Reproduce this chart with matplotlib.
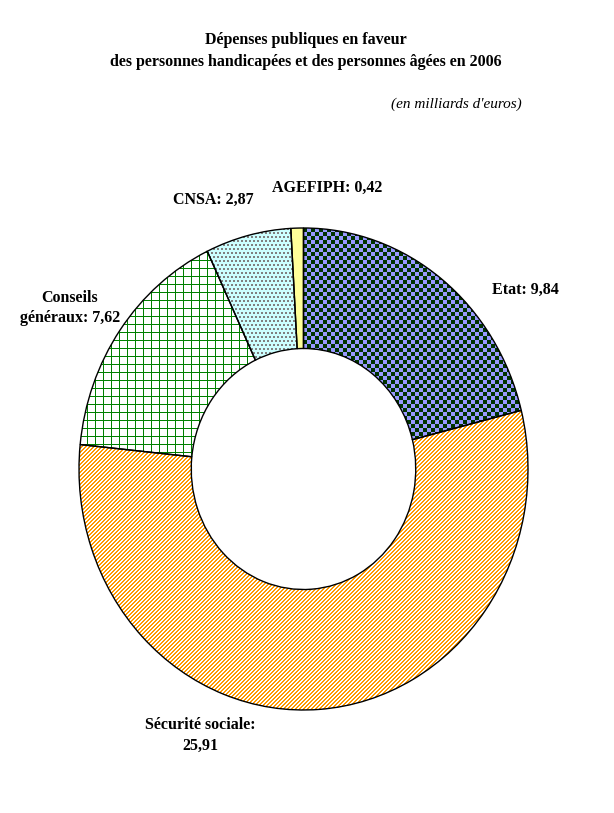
import numpy as np
import matplotlib
matplotlib.use('Agg')
import matplotlib.pyplot as plt

# donnees (milliards d'euros, 2006)
postes = ['Etat', 'Sécurité sociale', 'Conseils\ngénéraux', 'CNSA', 'AGEFIPH']
montants = [9.84, 25.91, 7.62, 2.87, 0.42]

W, H = 614, 813
fig = plt.figure(figsize=(W / 100, H / 100), dpi=100)
fig.patch.set_facecolor('white')

# zone du donut en pixels (un peu ovale comme l'original)
x0, x1, y0, y1 = 79, 528, 228, 710
ax = fig.add_axes([x0 / W, 1 - y1 / H, (x1 - x0) / W, (y1 - y0) / H])

wedges, _ = ax.pie(montants, startangle=90, counterclock=False, radius=1,
                   colors=['none'] * len(montants),
                   wedgeprops=dict(width=0.5, linewidth=1.0, edgecolor='black'))
ax.set_aspect('auto')
ax.set_xlim(-1, 1)
ax.set_ylim(-1, 1)
ax.axis('off')

# textures type Excel, en pixels
pw, ph = x1 - x0, y1 - y0
yy, xx = np.mgrid[0:ph, 0:pw]

def rgb(h):
    return np.array(matplotlib.colors.to_rgb(h))

def motif(mask, fond, trait):
    img = np.empty((ph, pw, 3))
    img[:] = rgb(fond)
    img[mask] = rgb(trait)
    return img

points = ((xx + 2 * ((yy // 4) % 2)) % 4 < 2) & (yy % 4 < 2)
textures = [
    motif(((xx // 4) + (yy // 4)) % 2 == 0, '#9999FF', '#003300'),   # damier
    motif(((xx + yy) % 4) < 2, '#FFFFFF', '#FF9900'),                 # rayures
    motif((xx % 8 == 0) | (yy % 8 == 0), '#FFFFFF', '#008000'),       # grille
    motif(points, '#CCFFFF', '#808080'),                              # points
    motif(np.zeros((ph, pw), bool), '#FFFF99', '#FFFF99'),
]

for w, tex in zip(wedges, textures):
    im = ax.imshow(tex, extent=[-1, 1, -1, 1], interpolation='none',
                   aspect='auto', zorder=1)
    im.set_clip_path(w)
    w.set_zorder(2)

# titres
serif = 'Liberation Serif'
fig.text(306 / W, 1 - 40 / H, 'Dépenses publiques en faveur', ha='center', va='center',
         fontsize=11.5, fontweight='bold', family=serif)
fig.text(306 / W, 1 - 62 / H, 'des personnes handicapées et des personnes âgées en 2006',
         ha='center', va='center', fontsize=11.5, fontweight='bold', family=serif)
fig.text(522 / W, 1 - 104 / H, "(en milliards d'euros)", ha='right', va='center',
         fontsize=11, style='italic', family=serif)

# etiquettes
def fmt(v):
    return ('%.2f' % v).replace('.', ',')

etiquettes = [
    (postes[0] + ': ' + fmt(montants[0]), 525, 290),
    (postes[1] + ':\n' + fmt(montants[1]), 200, 735),
    (postes[2] + ': ' + fmt(montants[2]), 70, 308),
    (postes[3] + ': ' + fmt(montants[3]), 213, 200),
    (postes[4] + ': ' + fmt(montants[4]), 327, 188),
]
for txt, px, py in etiquettes:
    fig.text(px / W, 1 - py / H, txt, ha='center', va='center', fontsize=11.5,
             fontweight='bold', family=serif, linespacing=1.4)

fig.savefig('out.png', dpi=100, facecolor='white')
